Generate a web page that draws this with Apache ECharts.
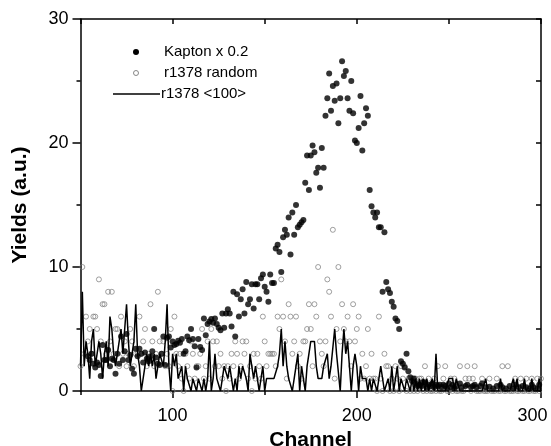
<!DOCTYPE html>
<html>
<head>
<meta charset="utf-8">
<script src="https://cdn.jsdelivr.net/npm/echarts@6/dist/echarts.min.js"></script>
<style>
html,body{margin:0;padding:0;background:#fff;}
#c{width:551px;height:446px;}
</style>
</head>
<body>
<div id="c"></div>
<script>
// Channel numbering
var kaptonStart = 54;
var randomStart = 50;
var alignedStart = 50;

// Kapton x 0.2 (filled dots), channels 54..300
var kapton = [
 2.8, 2.5, 3.0, 2.2, 1.9, 2.3, 2.1, 1.2, 3.7, 2.5,
 2.5, 3.3, 2.0, 2.6, 2.5, 1.4, 3.0, 2.2, 4.4, 2.5,
 3.2, 4.6, 2.5, 2.9, 1.8, 1.4, 3.4, 2.8, 3.4, 3.0,
 2.3, 3.1, 2.6, 2.4, 2.8, 3.2, 5.0, 2.7, 2.2, 2.1,
 3.0, 4.4, 2.1, 4.3, 4.4, 3.5, 4.0, 3.7, 3.8, 4.05,
 3.9, 4.2, 3.0, 3.2, 4.4, 4.1, 5.0, 4.2, 3.6, 1.9,
 4.2, 3.55, 3.3, 5.85, 4.5, 5.4, 5.6, 5.8, 5.5, 5.85,
 5.4, 5.1, 4.9, 6.25, 5.1, 6.25, 6.6, 6.25, 5.2, 8.0,
 4.4, 7.8, 6.0, 7.4, 8.2, 6.25, 8.8, 7.0, 7.4, 8.6,
 6.65, 8.6, 8.6, 7.4, 9.1, 9.4, 8.4, 8.0, 7.2, 9.4,
 8.7, 8.7, 11.5, 11.8, 11.2, 9.6, 12.4, 13.0, 12.6, 14.0,
 11.0, 14.4, 12.6, 15.0, 13.2, 13.4, 13.6, 13.8, 16.8, 19.0,
 16.2, 19.0, 19.8, 19.25, 17.6, 18.0, 16.4, 19.6, 18.0, 22.2,
 23.6, 25.6, 22.6, 24.6, 23.4, 24.8, 21.6, 23.6, 26.6, 25.4,
 25.8, 23.6, 22.6, 25.0, 22.4, 20.2, 20.0, 21.2, 23.8, 19.4,
 21.6, 22.8, 22.2, 16.2, 14.9, 14.4, 14.0, 14.4, 13.2, 13.2,
 8.0, 12.8, 8.8, 8.2, 7.9, 7.2, 6.8, 5.85, 5.65, 5.0,
 2.4, 2.2, 1.9, 3.0, 1.6, 1.1, 0.8, 1.0, 0.6, 0.4,
 0.5, 0.4, 0.7, 0.7, 0.3, 0.5, 0.4, 0.6, 0.3, 0.5,
 0.4, 0.5, 0.3, 0.5, 0.4, 0.2, 0.6, 0.3, 0.5, 0.2,
 0.4, null, 0.6, 0.3, null, 0.4, 0.5, null, 0.3, 0.4,
 0.5, 0.3, null, 0.4, 0.6, null, 0.3, null, 0.35, null,
 0.2, null, 0.4, null, 0.5, 0.3, null, 0.2, null, 0.4,
 null, 0.2, 0.5, null, 0.3, null, 0.4, null, 0.3, null,
 0.2, 0.5, 0.3, null, 0.2, 0.5, null
];

// r1378 random (open circles), channels 50..300
var random = [
 2, 10, 3, 6, 4, 5, 3, 6, 6, 5,
 9, 4, 7, 7, 3, 8, 4, 8, 3, 5,
 5, 2, 6, 3, 4, 2, 3, 5, 4, 2,
 3, 3, 6, 3, 4, 5, 2, 3, 7, 4,
 2, 3, 8, 4, 3, 4, 2, 3, 2, 5,
 0, 6, 3, 2, 3, 1, 0, 3, 2, 1,
 4, 3, 1, 2, 2, 3, 5, 1, 2, 4,
 1, 5, 4, 2, 4, 2, 3, 1, 2, 0,
 2, 1, 3, 2, 4, 3, 1, 2, 4, 3,
 4, 1, 2, 0, 3, 1, 3, 2, 1, 6,
 4, 2, 3, 3, 3, 3, 2, 6, 5, 9,
 6, 4, 1, 7, 6, 3, 4, 6, 2, 3,
 1, 4, 4, 5, 7, 5, 2, 7, 6, 10,
 4, 3, 2, 4, 9, 8, 6, 13, 1, 5,
 10, 4, 7, 5, 4, 6, 4, 2, 7, 4,
 5, 6, 1, 3, 1, 2, 5, 1, 3, 1,
 1, 0, 6, 1, 0, 3, 2, 2, 0, 1,
 0, 2, 1, 0, 2, 1, 2, 0, 1, 0,
 1, 0, 1, 0, 1, 1, 0, 2, 0, 1,
 0, 0, 1, 0, 2, 0, 0, 1, 2, 0,
 0, 1, 0, 1, 0, 0, 2, 0, 0, 1,
 2, 1, 0, 1, 2, 0, 0, 0, 1, 0,
 0, 0, 1, 0, 0, 0, 1, 0, 0, 2,
 0, 0, 2, 0, 0, 0, 1, 0, 0, 1,
 0, 0, 1, 0, 0, 1, 0, 0, 1, 0,
 1
];

// r1378 <100> (line), channels 50..300
var aligned = [
 2, 8, 2, 4, 3, 1, 4, 5, 2, 3,
 4, 3, 1, 3, 4, 2, 6, 5, 3, 2,
 3, 4, 5, 3, 5, 7, 4, 2, 2, 4,
 7, 3, 2, 0, 0, 2, 3, 2, 3, 2,
 3, 1, 2, 3, 3, 2, 4, 7, 2, 0,
 3, 2, 3, 1, 1, 2, 0, 2, 1, 1,
 0, 1, 1, 0, 1, 1, 0, 1, 0, 1,
 4, 0, 1, 3, 1, 1, 0, 1, 2, 2,
 1, 2, 2, 0, 1, 0, 2, 1, 2, 2,
 1, 0, 3, 3, 1, 2, 1, 0, 1, 2,
 0, 1, 1, 1, 1, 1, 1, 2, 3, 5,
 2, 4, 2, 1, 1, 0, 1, 1, 3, 0,
 2, 1, 0, 2, 3, 4, 4, 4, 2, 1,
 1, 1, 2, 2, 3, 1, 2, 2, 5, 3,
 3, 0, 3, 5, 3, 4, 2, 0, 2, 3,
 2, 0, 2, 1, 1, 1, 0, 1, 0, 1,
 1, 0, 1, 2, 2, 0, 0, 1, 0, 2,
 0, 0, 2, 0, 1, 1, 0, 1, 1, 0,
 1, 0, 1, 0, 1, 0, 1, 0, 1, 0,
 0, 1, 0, 3, 0, 0, 0, 0, 0, 0,
 1, 1, 1, 0, 1, 1, 0, 0, 0, 0,
 0, 0, 0, 0, 0, 0, 0, 0, 0, 0,
 1, 0, 0, 0, 0, 0, 0, 0, 1, 0,
 0, 0, 0, 0, 0, 1, 0, 1, 0, 0,
 0, 1, 0, 0, 0, 1, 0, 0, 0, 1,
 0
];

var xMajorTicks = [100, 200, 300];
var xMinorTicks = [50, 150, 250];
var legendNames = ['Kapton x 0.2', 'r1378 random', 'r1378 <100>'];

function pairs(start, arr) {
  var out = [];
  for (var i = 0; i < arr.length; i++) {
    if (arr[i] !== null) out.push([start + i, arr[i]]);
  }
  return out;
}

var FONT = '"Liberation Sans", Arial, sans-serif';
var chart = echarts.init(document.getElementById('c'), null, {renderer: 'canvas'});

var axisLine = {show: true, lineStyle: {color: '#000', width: 1.5}};

chart.setOption({
  animation: false,
  backgroundColor: '#fff',
  grid: {left: 80.5, right: 10, top: 19, bottom: 55, containLabel: false, outerBoundsMode: 'none'},
  xAxis: [
    {
      type: 'value', position: 'bottom', min: 50, max: 300,
      axisLine: axisLine,
      axisTick: {show: true, inside: false, length: 7, customValues: xMajorTicks, lineStyle: {color: '#000', width: 1.5}},
      axisLabel: {
        show: true, customValues: xMajorTicks, margin: 16, color: '#000', fontSize: 18, fontFamily: FONT,
        formatter: function (v) { return v === 300 ? '{r|' + v + '}' : String(v); },
        rich: {r: {color: '#000', fontSize: 18, fontFamily: FONT, padding: [0, 17, 0, 0]}}
      },
      splitLine: {show: false},
      name: 'Channel', nameLocation: 'middle', nameGap: 34,
      nameTextStyle: {color: '#000', fontSize: 21, fontWeight: 'bold', fontFamily: FONT}
    },
    {
      type: 'value', position: 'bottom', min: 50, max: 300,
      axisLine: {show: false},
      axisTick: {show: true, inside: false, length: 4, customValues: xMinorTicks, lineStyle: {color: '#000', width: 1.5}},
      axisLabel: {show: false},
      splitLine: {show: false}
    },
    {
      type: 'value', position: 'top', min: 50, max: 300, interval: 50,
      axisLine: axisLine,
      axisTick: {show: true, inside: true, length: 5, lineStyle: {color: '#000', width: 1.5}},
      axisLabel: {show: false},
      splitLine: {show: false}
    }
  ],
  yAxis: [
    {
      type: 'value', position: 'left', min: 0, max: 30, interval: 10,
      axisLine: axisLine,
      axisTick: {show: true, inside: false, length: 8, lineStyle: {color: '#000', width: 1.5}},
      minorTick: {show: true, splitNumber: 2, length: 4, lineStyle: {color: '#000', width: 1.5}},
      axisLabel: {show: true, margin: 12, color: '#000', fontSize: 18, fontFamily: FONT},
      splitLine: {show: false}, minorSplitLine: {show: false},
      name: 'Yields (a.u.)', nameLocation: 'middle', nameGap: 50,
      nameTextStyle: {color: '#000', fontSize: 21, fontWeight: 'bold', fontFamily: FONT}
    },
    {
      type: 'value', position: 'right', min: 0, max: 30, interval: 5,
      axisLine: axisLine,
      axisTick: {show: true, inside: true, length: 5, lineStyle: {color: '#000', width: 1.5}},
      axisLabel: {show: false},
      splitLine: {show: false}
    }
  ],
  series: [
    {
      name: legendNames[1], type: 'scatter', xAxisIndex: 0, yAxisIndex: 0,
      data: pairs(randomStart, random),
      symbol: 'circle', symbolSize: 5, z: 1,
      itemStyle: {color: 'rgba(255,255,255,0)', borderColor: '#7a7a7a', borderWidth: 0.9}
    },
    {
      name: legendNames[2], type: 'line', xAxisIndex: 0, yAxisIndex: 0,
      data: pairs(alignedStart, aligned),
      showSymbol: false, symbol: 'none', z: 2,
      lineStyle: {color: '#000', width: 1.5}
    },
    {
      name: legendNames[0], type: 'scatter', xAxisIndex: 0, yAxisIndex: 0,
      data: pairs(kaptonStart, kapton),
      symbol: 'circle', symbolSize: 6, z: 3,
      itemStyle: {color: '#000'}
    }
  ],
  graphic: [
    {type: 'circle', shape: {cx: 136, cy: 52, r: 3}, style: {fill: '#000'}, z: 10},
    {type: 'text', x: 164, y: 52, style: {text: legendNames[0], fill: '#000', font: '15px ' + FONT, verticalAlign: 'middle'}, z: 10},
    {type: 'circle', shape: {cx: 136, cy: 73, r: 2.5}, style: {fill: 'none', stroke: '#7a7a7a', lineWidth: 0.9}, z: 10},
    {type: 'text', x: 164, y: 73, style: {text: legendNames[1], fill: '#000', font: '15px ' + FONT, verticalAlign: 'middle'}, z: 10},
    {type: 'line', shape: {x1: 113, y1: 94, x2: 160, y2: 94}, style: {stroke: '#000', lineWidth: 1.5}, z: 10},
    {type: 'text', x: 161, y: 94, style: {text: legendNames[2], fill: '#000', font: '15px ' + FONT, verticalAlign: 'middle'}, z: 10}
  ]
});
</script>
</body>
</html>
